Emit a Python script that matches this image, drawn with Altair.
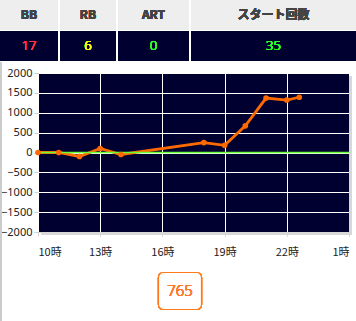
import altair as alt
import pandas as pd
import json

# ---- data ----
hours = [10, 11, 12, 13, 14, 18, 19, 20, 21, 22, 22.6]
diff = [0, 0, -100, 100, -50, 250, 180, 670, 1370, 1320, 1390]
tick_hours = [10, 13, 16, 19, 22, 25]
tick_labels = ["10時", "13時", "16時", "19時", "22時", "1時"]
y_ticks = [2000, 1500, 1000, 500, 0, -500, -1000, -1500, -2000]

headers = ["BB", "RB", "ART", "スタート回数"]
values = ["17", "6", "0", "35"]
value_colors = ["#ff3344", "#ffff00", "#33ff22", "#33ff22"]
total = "765"

# ---- layout (pixels) ----
PL, PT, W, H = 38, 73, 311, 159
col_edges = [0, 59, 117, 190, 356]
FONT = "Noto Sans CJK JP"
NUMFONT = "Noto Sans"

df = pd.DataFrame({"h": hours, "v": diff})

label_map = json.dumps({str(k): v for k, v in zip(tick_hours, tick_labels)}, ensure_ascii=False)

x = alt.X("h:Q", scale=alt.Scale(domain=[10, 25], nice=False),
          axis=alt.Axis(values=tick_hours, labelExpr=f"{label_map}[''+datum.value]",
                        title=None, grid=True, gridColor="#ffffff", gridWidth=1,
                        domainColor="#d0d0d0", tickColor="#d0d0d0", tickSize=4,
                        labelFont=FONT, labelFontSize=11, labelColor="#222222",
                        labelPadding=10, labelOverlap=False))
y = alt.Y("v:Q", scale=alt.Scale(domain=[-2000, 2000], nice=False),
          axis=alt.Axis(values=y_ticks, title=None, grid=True, gridColor="#ffffff",
                        gridWidth=1, domain=False, tickColor="#d0d0d0", tickSize=4,
                        format="d", labelOverlap=False, tickCount=9,
                        labelFont=NUMFONT, labelFontSize=11, labelColor="#222222",
                        labelPadding=2))

layers = []

# shadow on right / bottom of plot
layers.append(alt.Chart(df).mark_rect(color="#d8d8d8").encode(
    x=alt.value(W), x2=alt.value(W + 3), y=alt.value(3), y2=alt.value(H + 3)))
layers.append(alt.Chart(df).mark_rect(color="#d8d8d8").encode(
    x=alt.value(3), x2=alt.value(W + 3), y=alt.value(H), y2=alt.value(H + 3)))

base = alt.Chart(df)
line = base.mark_line(color="#ff6a00", strokeWidth=2.8).encode(x=x, y=y)
pts = base.mark_circle(color="#ff6a00", size=32, opacity=1).encode(x=x, y=y)
zero = alt.Chart(pd.DataFrame({"v": [0]})).mark_rule(color="#66ff33", strokeWidth=1.5).encode(
    y=y, x=alt.value(0), x2=alt.value(W))

layers += [line, zero, pts]

# left gray border of page
layers.append(alt.Chart(df).mark_rule(color="#cccccc", strokeWidth=2).encode(
    x=alt.value(-PL + 1), y=alt.value(-11), y2=alt.value(321 - PT)))

# table
for i, (hd, val, col) in enumerate(zip(headers, values, value_colors)):
    x0 = col_edges[i] - PL + (1 if i > 0 else 0)
    x1 = col_edges[i + 1] - PL - (1 if i < len(headers) - 1 else 0)
    cx = (x0 + x1) / 2
    layers.append(alt.Chart(df).mark_rect(color="#eeeeee").encode(
        x=alt.value(x0), x2=alt.value(x1), y=alt.value(-PT), y2=alt.value(-PT + 30)))
    layers.append(alt.Chart(df).mark_rect(color="#000030").encode(
        x=alt.value(x0), x2=alt.value(x1), y=alt.value(-PT + 31), y2=alt.value(-PT + 61)))
    layers.append(alt.Chart(df).mark_text(font=FONT, fontSize=12, fontWeight=600,
                                          color="#444444").encode(
        x=alt.value(cx), y=alt.value(-PT + 15), text=alt.value(hd)))
    layers.append(alt.Chart(df).mark_text(font=NUMFONT, fontSize=13, fontWeight=300,
                                          color=col).encode(
        x=alt.value(cx), y=alt.value(-PT + 46), text=alt.value(val)))

# total box
layers.append(alt.Chart(df).mark_rect(fill="#ffffff", stroke="#ff7a1a", strokeWidth=1.2,
                                      cornerRadius=5).encode(
    x=alt.value(158.5 - PL), x2=alt.value(201.5 - PL),
    y=alt.value(272.5 - PT), y2=alt.value(309.5 - PT)))
layers.append(alt.Chart(df).mark_text(font=NUMFONT, fontSize=15, fontWeight=300,
                                      color="#ff7a2a").encode(
    x=alt.value(180 - PL), y=alt.value(291 - PT), text=alt.value(total)))

chart = alt.layer(*layers).properties(
    width=W, height=H,
    autosize=alt.AutoSizeParams(type="none"),
    padding={"left": PL, "top": PT, "right": 356 - PL - W, "bottom": 321 - PT - H},
    background="#ffffff",
).configure_view(fill="#000030", stroke=None)

chart.save("out.html", embed_options={"renderer": "svg", "actions": False})
